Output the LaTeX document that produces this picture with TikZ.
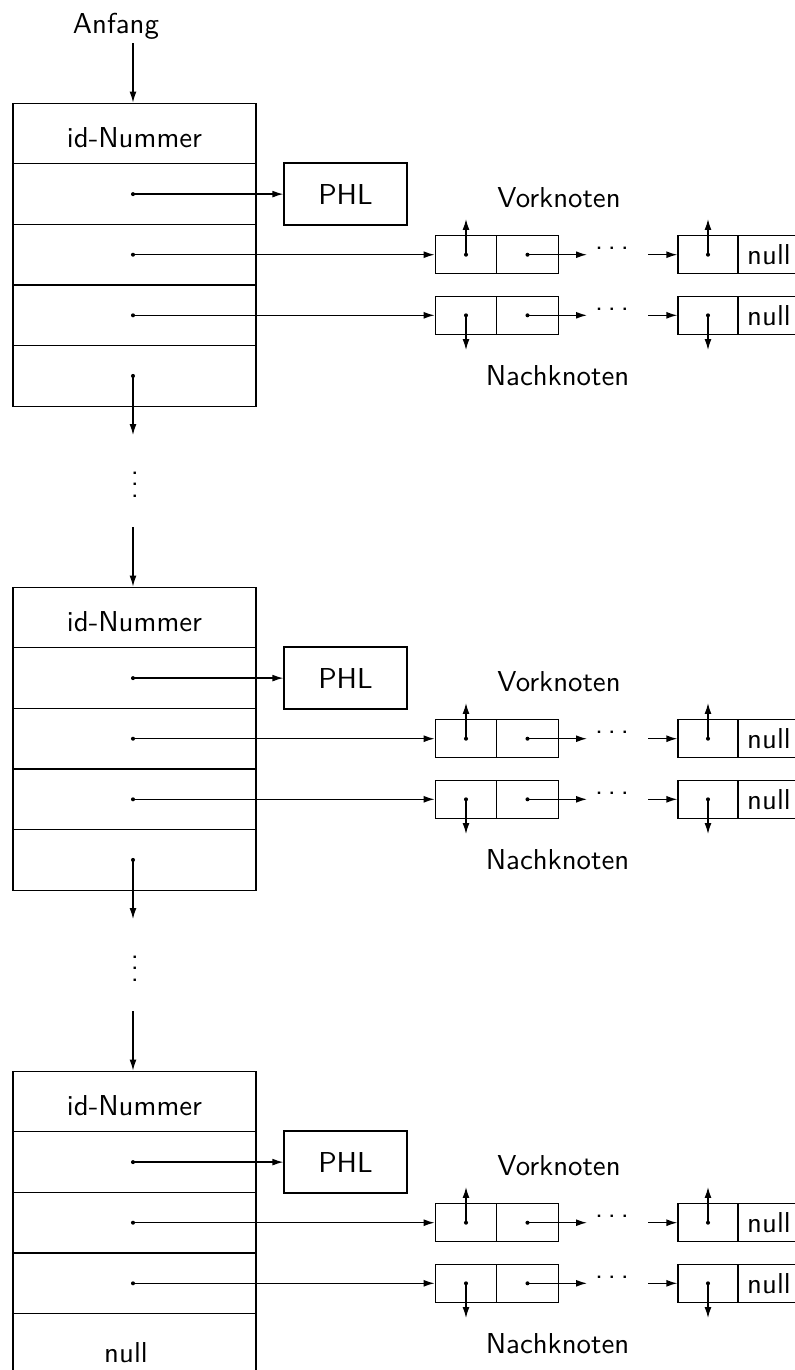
\documentclass[tikz,border=0pt]{standalone}
\usetikzlibrary{arrows.meta}
\newlength\upx
\setlength\upx{0.34722pt}
% three baseline dots with text spacing
\newcommand\threedots{.\kern1.67pt.\kern1.67pt.}
\begin{document}
\begin{tikzpicture}[x=0.34722pt, y=-0.34722pt, line width=0.45pt,
  every node/.style={font=\sffamily},
  rowbox/.style={draw, inner sep=0pt, minimum width=243*\upx, minimum height=60.6*\upx},
  idbox/.style={rowbox, text height=9.4pt, text depth=0pt},
  phlbox/.style={draw, inner sep=0pt, minimum width=123*\upx, minimum height=62*\upx},
  lcell/.style={draw, inner sep=0pt, minimum width=61.5*\upx, minimum height=38*\upx},
  lend/.style={draw, inner sep=0pt, minimum width=60*\upx, minimum height=38*\upx},
  nullcell/.style={draw, inner sep=0pt, minimum width=62*\upx, minimum height=38*\upx},
  txt/.style={inner sep=0pt, anchor=base},
  dotstxt/.style={inner sep=0pt, anchor=base west},
  ptr/.style={-{Latex[length=3.8pt,width=2.4pt]}}]
\useasboundingbox (0,0) rectangle (795,1370);
\clip (0,0) rectangle (795,1370);

% start pointer
\node[txt] (anfang) at (116,33) {Anfang};
\coordinate (start) at (133,43);

\foreach \b/\oy in {1/0, 2/484, 3/968}{
  % table of one entry
  \node[idbox]  (b\b-id) at (134.5,133.5+\oy) {id-Nummer};
  \node[rowbox] (b\b-r1) at (134.5,194.1+\oy) {};
  \node[rowbox] (b\b-r2) at (134.5,254.7+\oy) {};
  \node[rowbox] (b\b-r3) at (134.5,315.3+\oy) {};
  \node[rowbox] (b\b-r4) at (134.5,375.9+\oy) {};
  \coordinate (b\b-p1) at (133,194.1+\oy);
  \coordinate (b\b-p2) at (133,254.7+\oy);
  \coordinate (b\b-p3) at (133,315.3+\oy);

  % PHL
  \node[phlbox] (b\b-phl) at (345.5,194.1+\oy) {PHL};
  \fill (b\b-p1) circle[radius=0.7pt];
  \draw[ptr] (b\b-p1) -- (b\b-phl.west);

  % predecessor list
  \node[txt] (b\b-vlab) at (559,207+\oy) {Vorknoten};
  \node[lcell] (b\b-v1) at (466,254.7+\oy) {};
  \node[lcell] (b\b-v2) at (527.5,254.7+\oy) {};
  \node[lend]  (b\b-vl) at (708,254.7+\oy) {};
  \node[nullcell] (b\b-vn) at (769,254.7+\oy) {null};
  \fill (b\b-p2) circle[radius=0.7pt];
  \draw[ptr] (b\b-p2) -- (b\b-p2 -| b\b-v1.west);
  \coordinate (b\b-vu1) at (466,219+\oy);
  \coordinate (b\b-vu2) at (708,219+\oy);
  \coordinate (b\b-vr) at (587,254.7+\oy);
  \coordinate (b\b-vs) at (648,254.7+\oy);
  \fill (b\b-v1.center) circle[radius=0.7pt];
  \draw[ptr] (b\b-v1.center) -- (b\b-vu1);
  \fill (b\b-v2.center) circle[radius=0.7pt];
  \draw[ptr] (b\b-v2.center) -- (b\b-vr);
  \node[dotstxt] (b\b-vdots) at (594.5,249.5+\oy) {\threedots};
  \draw[ptr] (b\b-vs) -- (b\b-vl.west);
  \fill (b\b-vl.center) circle[radius=0.7pt];
  \draw[ptr] (b\b-vl.center) -- (b\b-vu2);

  % successor list
  \node[lcell] (b\b-n1) at (466,315.3+\oy) {};
  \node[lcell] (b\b-n2) at (527.5,315.3+\oy) {};
  \node[lend]  (b\b-nl) at (708,315.3+\oy) {};
  \node[nullcell] (b\b-nn) at (769,315.3+\oy) {null};
  \node[txt] (b\b-nlab) at (557.5,385+\oy) {Nachknoten};
  \fill (b\b-p3) circle[radius=0.7pt];
  \draw[ptr] (b\b-p3) -- (b\b-p3 -| b\b-n1.west);
  \coordinate (b\b-nd1) at (466,350+\oy);
  \coordinate (b\b-nd2) at (708,350+\oy);
  \coordinate (b\b-nr) at (587,315.3+\oy);
  \coordinate (b\b-ns) at (648,315.3+\oy);
  \fill (b\b-n1.center) circle[radius=0.7pt];
  \draw[ptr] (b\b-n1.center) -- (b\b-nd1);
  \fill (b\b-n2.center) circle[radius=0.7pt];
  \draw[ptr] (b\b-n2.center) -- (b\b-nr);
  \node[dotstxt] (b\b-ndots) at (594.5,310+\oy) {\threedots};
  \draw[ptr] (b\b-ns) -- (b\b-nl.west);
  \fill (b\b-nl.center) circle[radius=0.7pt];
  \draw[ptr] (b\b-nl.center) -- (b\b-nd2);
}

% entry point
\draw[ptr] (start) -- (start |- b1-id.north);

% links to the next entries
\foreach \b/\n/\oy in {1/2/0, 2/3/484}{
  \coordinate (b\b-p4) at (133,375.9+\oy);
  \coordinate (b\b-down) at (133,435+\oy);
  \coordinate (b\b-up) at (133,527+\oy);
  \fill (b\b-p4) circle[radius=0.7pt];
  \draw[ptr] (b\b-p4) -- (b\b-down);
  \node[inner sep=0pt, anchor=base] (b\b-vd) at (135,497.5+\oy) {\vdots};
  \draw[ptr] (b\b-up) -- (b\b-up |- b\n-id.north);
}

% end of the table
\node[txt] (b3-null) at (126,1362) {null};
\end{tikzpicture}
\end{document}
